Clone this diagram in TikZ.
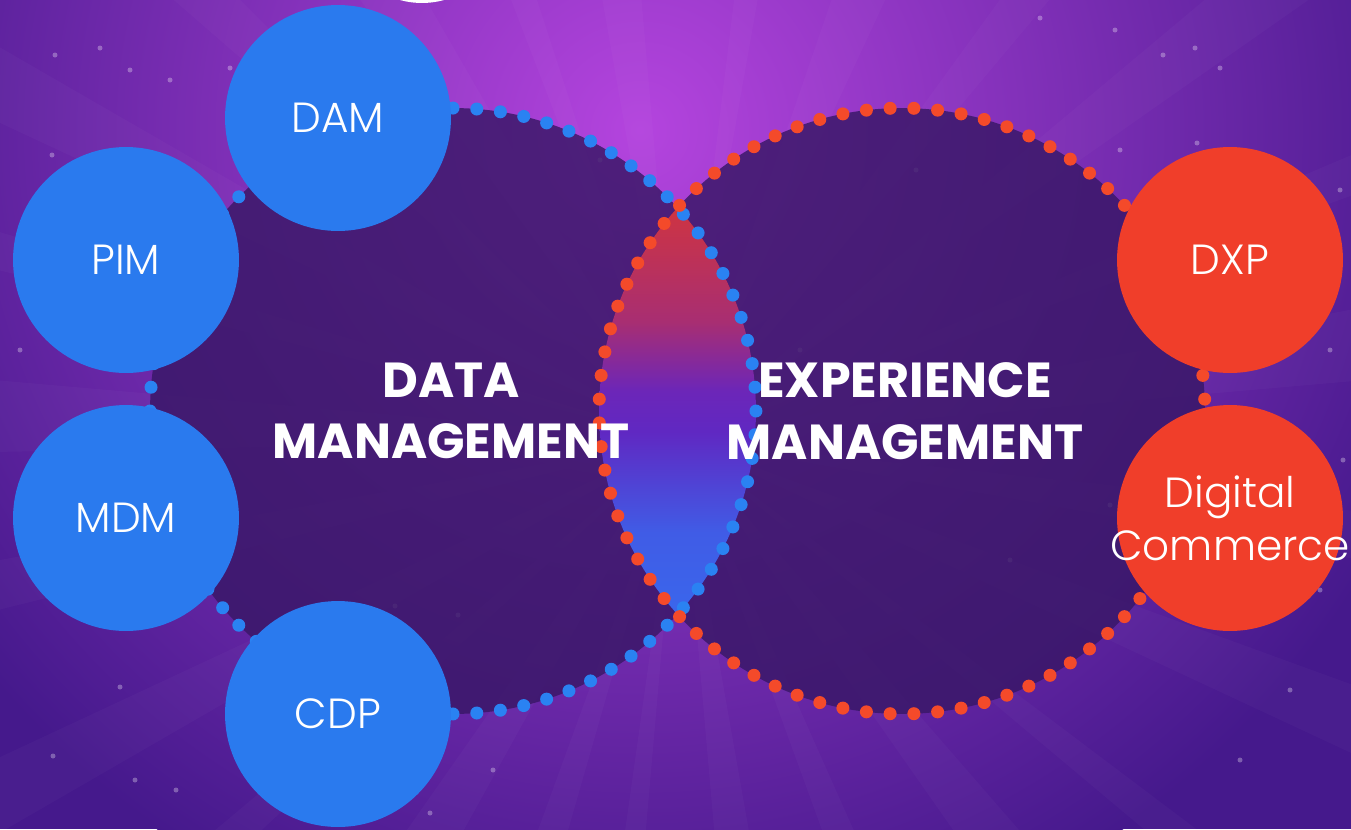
\documentclass[tikz,border=0pt]{standalone}
\usepackage{fontspec}
\setmainfont{Poppins}
\IfFontExistsTF{Poppins Light}{\newfontfamily\lightfont{Poppins Light}}{\newfontfamily\lightfont{Poppins}}
\usetikzlibrary{calc}
\definecolor{bgbase}{HTML}{45198C}
\definecolor{bgglow}{HTML}{B444DE}
\definecolor{bigfill}{HTML}{381766}
\definecolor{cblue}{HTML}{2A7AEE}
\definecolor{cred}{HTML}{F03E2A}
\definecolor{dotblue}{HTML}{2A82F2}
\definecolor{dotred}{HTML}{F44A2A}
\definecolor{lensA}{HTML}{3A66EC}
\definecolor{lensB}{HTML}{405CE6}
\definecolor{lensC}{HTML}{6028C2}
\definecolor{lensD}{HTML}{6C26B8}
\definecolor{lensE}{HTML}{A82E72}
\definecolor{lensF}{HTML}{CE3442}
\pgfdeclareverticalshading{lensshade}{100bp}{
  color(0bp)=(lensA);
  color(25bp)=(lensA);
  color(35bp)=(lensB);
  color(47.5bp)=(lensC);
  color(52.5bp)=(lensD);
  color(61bp)=(lensE);
  color(75bp)=(lensF);
  color(100bp)=(lensF)}
\tikzset{
  bigc/.style={circle, minimum size=12.12cm, inner sep=0pt, fill=bigfill, fill opacity=0.82},
  smallc/.style={circle, minimum size=4.52cm, inner sep=0pt, text=white, font=\lightfont\fontsize{24}{30}\selectfont},
  smalltext/.style={text=white, align=center, inner sep=0pt, font=\lightfont\fontsize{24}{30}\selectfont},
  bigtext/.style={text=white, align=center, font=\bfseries\fontsize{28}{35}\selectfont},
  star/.style={fill=white, opacity=0.3},
  ray/.style={fill=white, opacity=0.025}
}
\begin{document}
\begin{tikzpicture}[x=0.02cm,y=-0.02cm]
\useasboundingbox (0,0) rectangle (1351,829);
% background
\begin{scope}
\clip (0,0) rectangle (1351,829);
\fill[bgbase] (0,0) rectangle (1351,829);
\shade[inner color=bgglow, outer color=bgbase] (640,130) circle[radius=17cm];
\coordinate (rc) at (680,440);
\foreach \a/\w in {95/5,108/3,120/6,135/4,150/5,163/3,175/6,190/4,205/5,220/3,235/6,250/4,262/3,275/5,290/4,305/6,320/3,335/5,350/4,5/6,20/3,35/5,50/4,65/6,80/3}{
  \fill[ray] (rc) -- ($(rc)+(\a:40cm)$) -- ($(rc)+(\a+\w:40cm)$) -- cycle;
}
\foreach \p in {(55,55),(52,155),(100,48),(130,70),(230,68),(320,50),(1040,18),(1115,30),(1163,55),(1195,48),(1220,68),(1197,143),(1120,150),(1340,190),(1330,350),(1343,460),(1110,505),(1320,590),(170,80),(120,687),(53,756),(135,780),(176,790),(458,615),(395,606),(430,813),(493,770),(916,170),(1290,690),(1240,760),(20,350),(800,350),(600,160),(1010,560)}{
  \fill[star] \p circle[radius=0.05cm];
}
\fill[white] (422,-79) circle[radius=1.64cm];
\end{scope}
% big circles
\node[bigc] (L) at (453,411) {};
\node[bigc] (R) at (902,411) {};
% lens
\begin{scope}
\clip (L.center) circle[radius=6.06cm];
\clip (R.center) circle[radius=6.06cm];
\shade[shading=lensshade] (590,208) rectangle (765,614);
\end{scope}
% dotted outlines
\foreach \a in {0,4.5,...,356}{
  \fill[dotblue] ($(L.center)+(\a:6.06cm)$) circle[radius=0.13cm];
}
\foreach \a in {2.25,6.75,...,358}{
  \fill[dotred] ($(R.center)+(\a:6.06cm)$) circle[radius=0.13cm];
}
% small circles
\node[smallc, fill=cblue] (dam) at (338,118) {DAM};
\node[smallc, fill=cblue] (pim) at (126,260) {PIM};
\node[smallc, fill=cblue] (mdm) at (126,518) {MDM};
\node[smallc, fill=cblue] (cdp) at (338,714) {CDP};
\node[smallc, fill=cred] (dxp) at (1230,260) {DXP};
\node[smallc, fill=cred] (dc) at (1230,518) {};
\node[smalltext] (dct) at (dc.center) {Digital\\Commerce};
% labels
\node[bigtext] (dmt) at (451,411) {DATA\\MANAGEMENT};
\node[bigtext] (emt) at (905,411) {EXPERIENCE\\MANAGEMENT};
\end{tikzpicture}
\end{document}
